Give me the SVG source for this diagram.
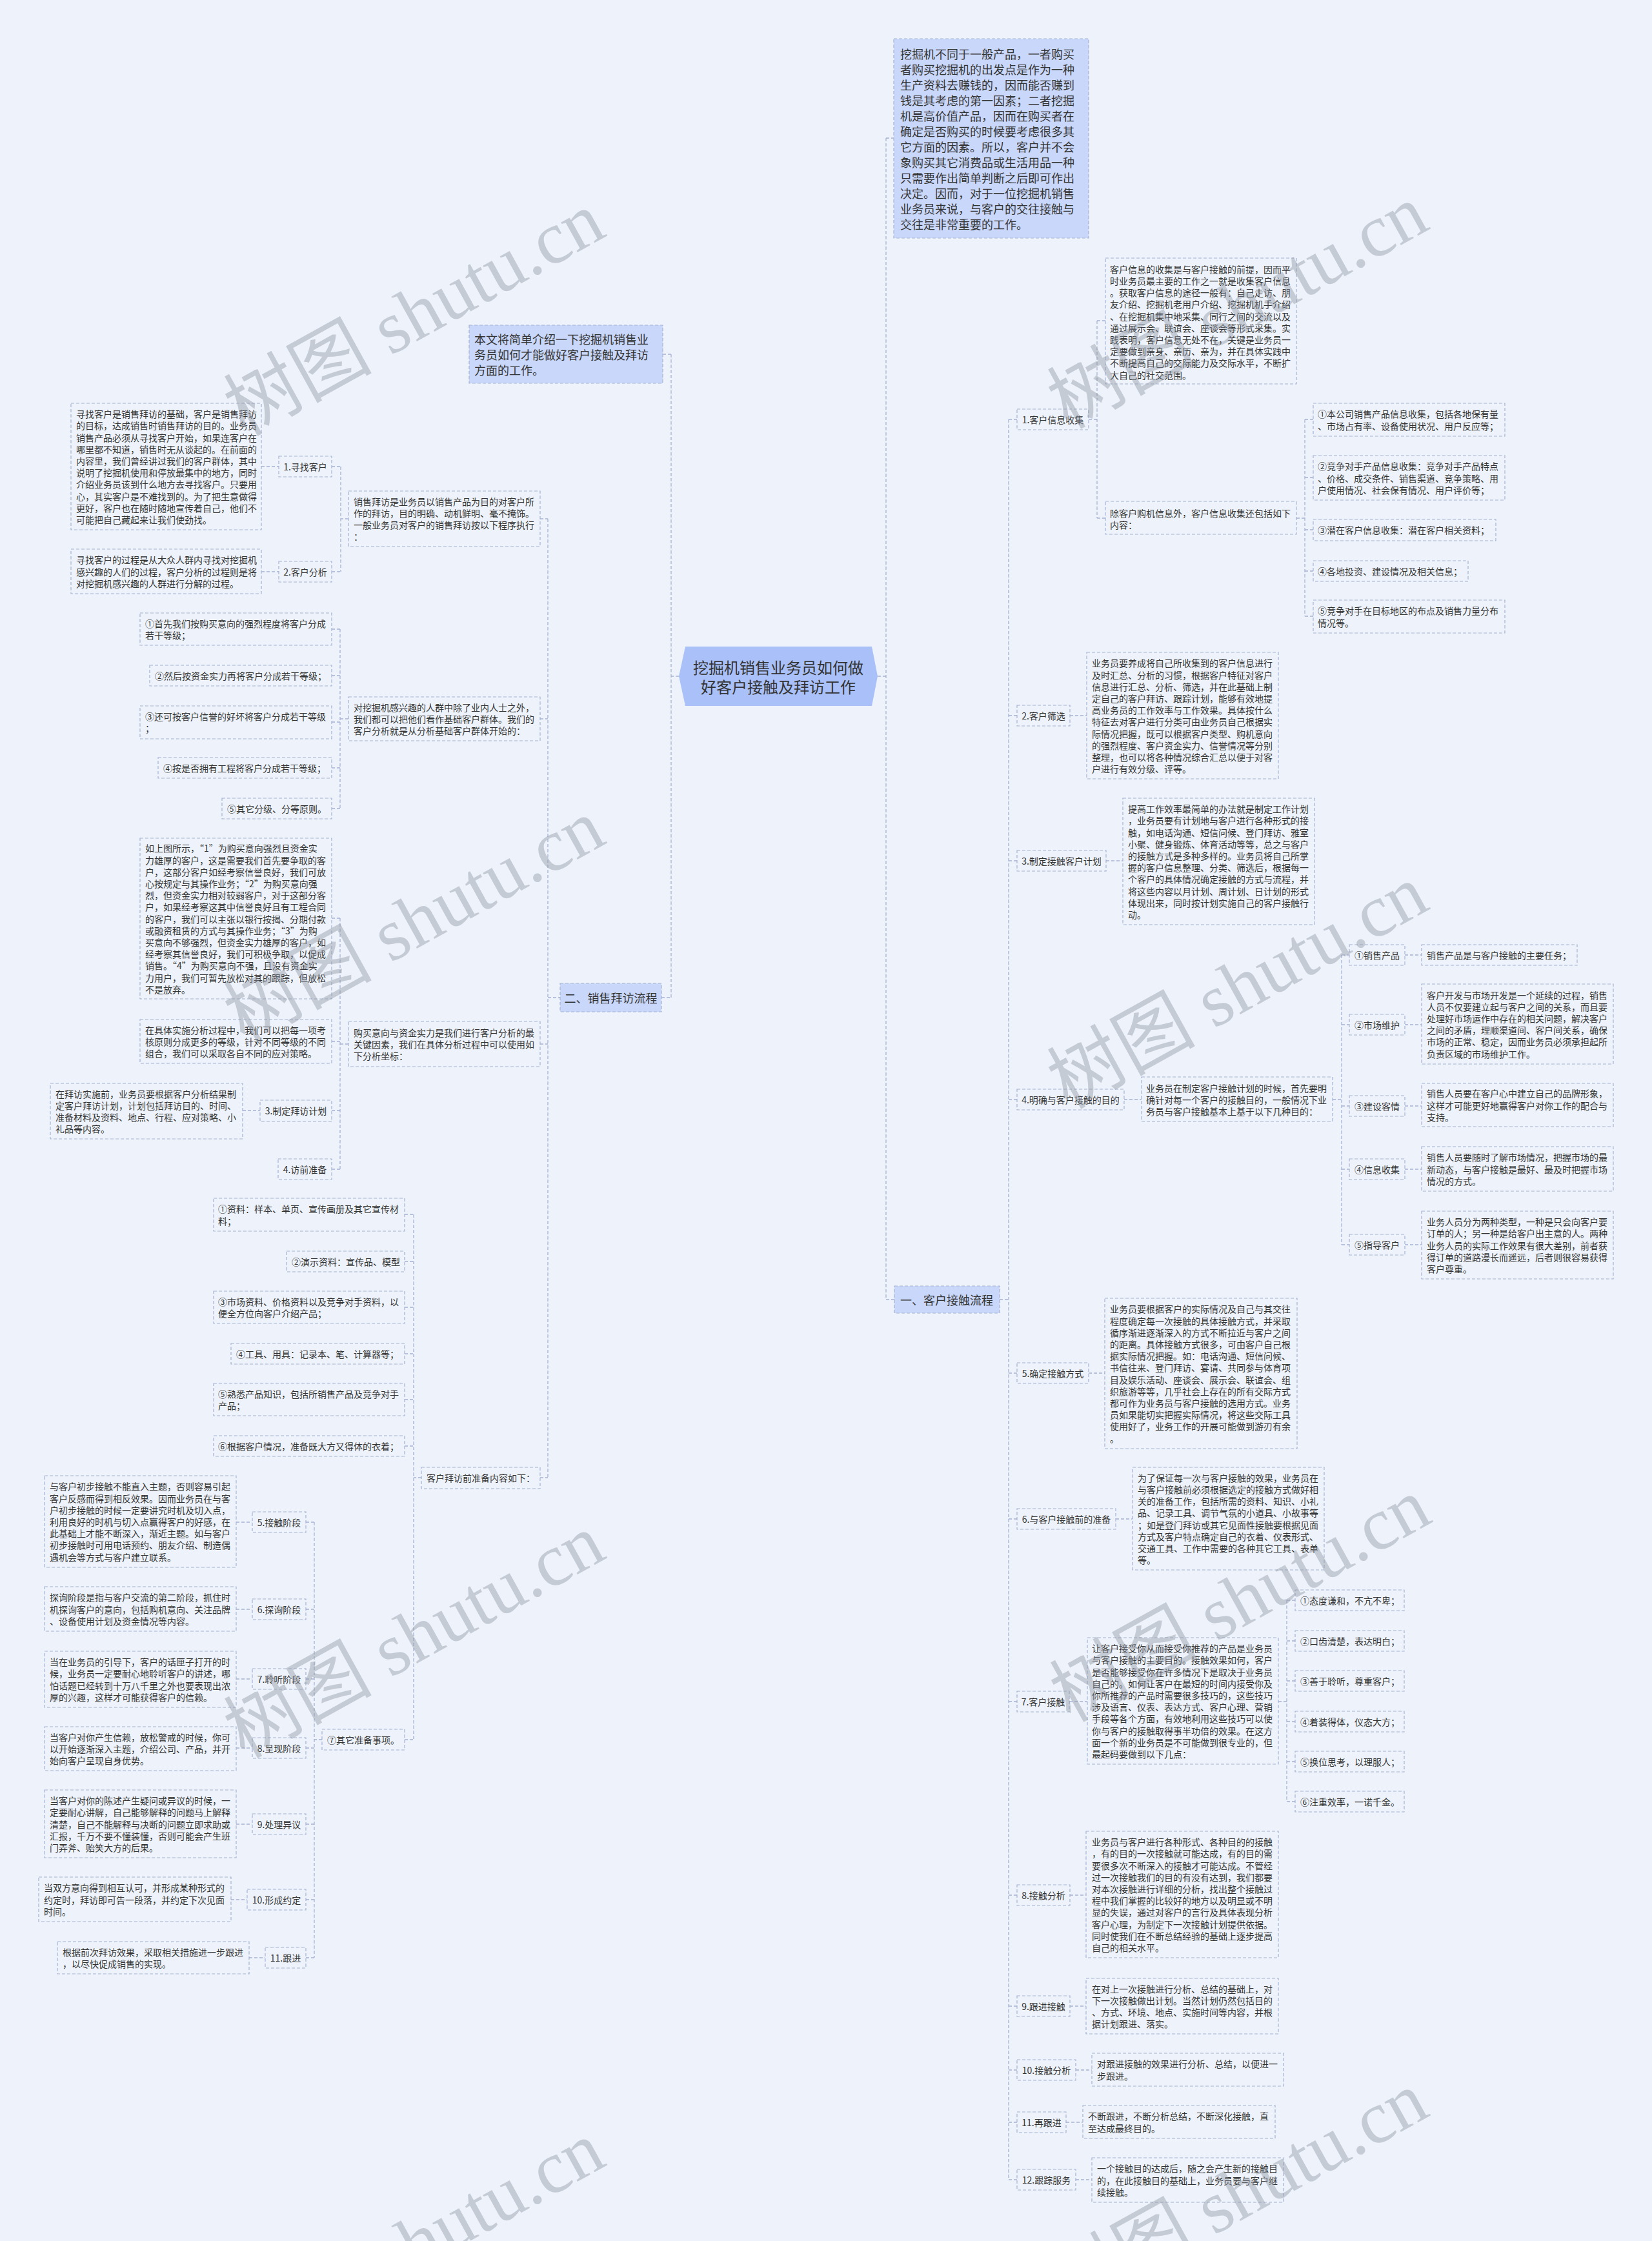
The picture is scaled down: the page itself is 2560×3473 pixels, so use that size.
<svg xmlns="http://www.w3.org/2000/svg" width="2560" height="3473" viewBox="0 0 2560 3473">
<style>
.b{fill:#eef3fb;stroke:#a6b2d2;stroke-width:1.2;stroke-dasharray:5 3}
.h{fill:#c9d8fa;stroke:#a6b2d2;stroke-width:1.2;stroke-dasharray:5 3}
.c{fill:none;stroke:#a6b2d2;stroke-width:1.3;stroke-dasharray:5 3}
text{font-family:"Noto Sans CJK SC","Liberation Sans",sans-serif;fill:#333;dominant-baseline:central}
.s{font-size:14px}
.m{font-size:18px}
.n{text-anchor:middle}
.w{font-family:"Liberation Serif","Noto Sans CJK SC",serif;font-size:115px;fill:#8f96a3;opacity:.42;text-anchor:middle}
</style>
<rect x="0" y="0" width="2560" height="3473" fill="#eef3fb"/>
<g id="connectors">
<path class="c" d="M1373 214V2014M1373 214H1385M1360 1048H1373M1373 2014H1386M1549 2014H1563M1563 650V3378M1563 650H1576M1563 1109H1576M1563 1334H1576M1563 1704H1576M1563 2128H1576M1563 2354H1576M1563 2637H1576M1563 2937H1576M1563 3109H1576M1563 3208H1576M1563 3289H1576M1563 3378H1576"/>
<path class="c" d="M1687 650H1700M1700 497V803M1700 497H1713M1700 803H1713M2009 803H2022M2022 650V955M2022 650H2035M2022 740H2035M2022 821H2035M2022 885H2035M2022 955H2035"/>
<path class="c" d="M1658 1109H1684M1714 1334H1740M1742 1704H1769M2065 1704H2079M2079 1480V1929M2079 1480H2091M2079 1588H2091M2079 1714H2091M2079 1812H2091M2079 1929H2091M2177 1480H2203M2177 1588H2203M2177 1714H2203M2177 1812H2203M2177 1929H2203"/>
<path class="c" d="M1687 2128H1712M1729 2354H1755M1657 2637H1685M1981 2637H1994M1994 2480V2792M1994 2480H2007M1994 2543H2007M1994 2605H2007M1994 2668H2007M1994 2730H2007M1994 2792H2007M1658 2937H1683M1658 3109H1683M1667 3208H1692M1652 3289H1678M1667 3378H1692"/>
<path class="c" d="M1052 1048H1040M1040 549V1546M1027 549H1040M1025 1546H1040M849 1546H868M849 804V2290M837 804H849M837 1114H849M837 1618H849M837 2290H849"/>
<path class="c" d="M540 804H528M528 723V886M514 723H528M514 886H528M405 723H432M405 886H432M540 1114H527M527 975V1253M514 975H527M514 1047H527M514 1119H527M514 1190H527M514 1253H527M540 1618H527M527 1423V1812M514 1423H527M514 1614H527M514 1721H527M514 1812H527M376 1721H403"/>
<path class="c" d="M653 2290H641M641 1882V2696M627 1882H641M627 1955H641M627 2026H641M627 2098H641M627 2169H641M627 2241H641M627 2696H641M499 2696H487M487 2359V3034M474 2359H487M474 2494H487M474 2602H487M474 2709H487M474 2827H487M474 2944H487M474 3034H487M366 2359H391M366 2494H391M366 2602H391M366 2709H391M366 2827H391M358 2944H383M386 3034H411"/>
</g>
<g id="root">
<polygon points="1052,1048 1062,1002 1351,1002 1360,1048 1351,1094 1062,1094" fill="#a9c1f8"/>
<text x="1206" y="1033" font-size="24" class="n">挖掘机销售业务员如何做</text>
<text x="1206" y="1063" font-size="24" class="n">好客户接触及拜访工作</text>
</g>
<g id="intro-right">
<rect class="h" x="1385" y="60" width="302" height="309"/>
<text class="m" x="1395"><tspan x="1395" y="83">挖掘机不同于一般产品，一者购买</tspan><tspan x="1395" y="107">者购买挖掘机的出发点是作为一种</tspan><tspan x="1395" y="131">生产资料去赚钱的，因而能否赚到</tspan><tspan x="1395" y="155">钱是其考虑的第一因素；二者挖掘</tspan><tspan x="1395" y="179">机是高价值产品，因而在购买者在</tspan><tspan x="1395" y="203">确定是否购买的时候要考虑很多其</tspan><tspan x="1395" y="227">它方面的因素。所以，客户并不会</tspan><tspan x="1395" y="251">象购买其它消费品或生活用品一种</tspan><tspan x="1395" y="275">只需要作出简单判断之后即可作出</tspan><tspan x="1395" y="299">决定。因而，对于一位挖掘机销售</tspan><tspan x="1395" y="323">业务员来说，与客户的交往接触与</tspan><tspan x="1395" y="347">交往是非常重要的工作。</tspan></text>
</g>
<g id="b1">
<rect class="h" x="1386" y="1993" width="163" height="42"/>
<text class="m n" x="1467" y="2014">一、客户接触流程</text>
</g>
<g id="r1"><rect class="b" x="1576" y="634" width="111" height="32"/><text class="s n" x="1631.5" y="650">1.客户信息收集</text></g>
<g id="r1a"><rect class="b" x="1713" y="400" width="296" height="195"/><text class="s"><tspan x="1720" y="416.8">客户信息的收集是与客户接触的前提，因而平</tspan><tspan x="1720" y="435">时业务员最主要的工作之一就是收集客户信息</tspan><tspan x="1720" y="453.2">。获取客户信息的途径一般有：自己走访、朋</tspan><tspan x="1720" y="471.4">友介绍、挖掘机老用户介绍、挖掘机机手介绍</tspan><tspan x="1720" y="489.6">、在挖掘机集中地采集、同行之间的交流以及</tspan><tspan x="1720" y="507.8">通过展示会、联谊会、座谈会等形式采集。实</tspan><tspan x="1720" y="526">践表明，客户信息无处不在，关键是业务员一</tspan><tspan x="1720" y="544.2">定要做到亲身、亲历、亲为，并在具体实践中</tspan><tspan x="1720" y="562.4">不断提高自己的交际能力及交际水平，不断扩</tspan><tspan x="1720" y="580.6">大自己的社交范围。</tspan></text></g>
<g id="r1b"><rect class="b" x="1713" y="777" width="296" height="51"/><text class="s"><tspan x="1720" y="794.5">除客户购机信息外，客户信息收集还包括如下</tspan><tspan x="1720" y="812.7">内容：</tspan></text></g>
<g id="r1b1"><rect class="b" x="2035" y="625" width="297" height="51"/><text class="s"><tspan x="2042" y="641.4">①本公司销售产品信息收集，包括各地保有量</tspan><tspan x="2042" y="659.6">、市场占有率、设备使用状况、用户反应等；</tspan></text></g>
<g id="r1b2"><rect class="b" x="2035" y="706" width="297" height="69"/><text class="s"><tspan x="2042" y="722.3">②竞争对手产品信息收集：竞争对手产品特点</tspan><tspan x="2042" y="740.5">、价格、成交条件、销售渠道、竞争策略、用</tspan><tspan x="2042" y="758.7">户使用情况、社会保有情况、用户评价等；</tspan></text></g>
<g id="r1b3"><rect class="b" x="2035" y="805" width="283" height="33"/><text class="s" x="2042" y="821">③潜在客户信息收集：潜在客户相关资料；</text></g>
<g id="r1b4"><rect class="b" x="2035" y="869" width="240" height="32"/><text class="s" x="2042" y="885">④各地投资、建设情况及相关信息；</text></g>
<g id="r1b5"><rect class="b" x="2035" y="930" width="297" height="51"/><text class="s"><tspan x="2042" y="946.4">⑤竞争对手在目标地区的布点及销售力量分布</tspan><tspan x="2042" y="964.6">情况等。</tspan></text></g>
<g id="r2"><rect class="b" x="1576" y="1093" width="82" height="32"/><text class="s n" x="1617" y="1109">2.客户筛选</text></g>
<g id="r2a"><rect class="b" x="1684" y="1011" width="297" height="196"/><text class="s"><tspan x="1692" y="1027.3">业务员要养成将自己所收集到的客户信息进行</tspan><tspan x="1692" y="1045.5">及时汇总、分析的习惯，根据客户特征对客户</tspan><tspan x="1692" y="1063.7">信息进行汇总、分析、筛选，并在此基础上制</tspan><tspan x="1692" y="1081.9">定自己的客户拜访、跟踪计划，能够有效地提</tspan><tspan x="1692" y="1100.1">高业务员的工作效率与工作效果。具体按什么</tspan><tspan x="1692" y="1118.3">特征去对客户进行分类可由业务员自己根据实</tspan><tspan x="1692" y="1136.5">际情况把握，既可以根据客户类型、购机意向</tspan><tspan x="1692" y="1154.7">的强烈程度、客户资金实力、信誉情况等分别</tspan><tspan x="1692" y="1172.9">整理，也可以将各种情况综合汇总以便于对客</tspan><tspan x="1692" y="1191.1">户进行有效分级、评等。</tspan></text></g>
<g id="r3"><rect class="b" x="1576" y="1318" width="138" height="32"/><text class="s n" x="1645" y="1334">3.制定接触客户计划</text></g>
<g id="r3a"><rect class="b" x="1740" y="1237" width="297" height="196"/><text class="s"><tspan x="1748" y="1253.1">提高工作效率最简单的办法就是制定工作计划</tspan><tspan x="1748" y="1271.3">，业务员要有计划地与客户进行各种形式的接</tspan><tspan x="1748" y="1289.5">触，如电话沟通、短信问候、登门拜访、雅室</tspan><tspan x="1748" y="1307.7">小聚、健身锻炼、体育活动等等，总之与客户</tspan><tspan x="1748" y="1325.9">的接触方式是多种多样的。业务员将自己所掌</tspan><tspan x="1748" y="1344.1">握的客户信息整理、分类、筛选后，根据每一</tspan><tspan x="1748" y="1362.3">个客户的具体情况确定接触的方式与流程，并</tspan><tspan x="1748" y="1380.5">将这些内容以月计划、周计划、日计划的形式</tspan><tspan x="1748" y="1398.7">体现出来，同时按计划实施自己的客户接触行</tspan><tspan x="1748" y="1416.9">动。</tspan></text></g>
<g id="r4"><rect class="b" x="1576" y="1688" width="166" height="32"/><text class="s n" x="1659" y="1704">4.明确与客户接触的目的</text></g>
<g id="r4a"><rect class="b" x="1769" y="1669" width="296" height="69"/><text class="s"><tspan x="1776" y="1685.8">业务员在制定客户接触计划的时候，首先要明</tspan><tspan x="1776" y="1704">确针对每一个客户的接触目的，一般情况下业</tspan><tspan x="1776" y="1722.2">务员与客户接触基本上基于以下几种目的：</tspan></text></g>
<g id="r4a1"><rect class="b" x="2091" y="1464" width="86" height="32"/><text class="s n" x="2134" y="1480">①销售产品</text></g>
<g id="r4a2"><rect class="b" x="2091" y="1572" width="86" height="32"/><text class="s n" x="2134" y="1588">②市场维护</text></g>
<g id="r4a3"><rect class="b" x="2091" y="1698" width="86" height="32"/><text class="s n" x="2134" y="1714">③建设客情</text></g>
<g id="r4a4"><rect class="b" x="2091" y="1796" width="86" height="32"/><text class="s n" x="2134" y="1812">④信息收集</text></g>
<g id="r4a5"><rect class="b" x="2091" y="1913" width="86" height="32"/><text class="s n" x="2134" y="1929">⑤指导客户</text></g>
<g id="r4b1"><rect class="b" x="2203" y="1464" width="241" height="32"/><text class="s" x="2211" y="1480">销售产品是与客户接触的主要任务；</text></g>
<g id="r4b2"><rect class="b" x="2203" y="1525" width="297" height="124"/><text class="s"><tspan x="2211" y="1541.5">客户开发与市场开发是一个延续的过程，销售</tspan><tspan x="2211" y="1559.7">人员不仅要建立起与客户之间的关系，而且要</tspan><tspan x="2211" y="1577.9">处理好市场运作中存在的相关问题，解决客户</tspan><tspan x="2211" y="1596.1">之间的矛盾，理顺渠道间、客户间关系，确保</tspan><tspan x="2211" y="1614.3">市场的正常、稳定，因而业务员必须承担起所</tspan><tspan x="2211" y="1632.5">负责区域的市场维护工作。</tspan></text></g>
<g id="r4b3"><rect class="b" x="2203" y="1679" width="297" height="67"/><text class="s"><tspan x="2211" y="1694.3">销售人员要在客户心中建立自己的品牌形象，</tspan><tspan x="2211" y="1712.5">这样才可能更好地赢得客户对你工作的配合与</tspan><tspan x="2211" y="1730.7">支持。</tspan></text></g>
<g id="r4b4"><rect class="b" x="2203" y="1777" width="297" height="69"/><text class="s"><tspan x="2211" y="1793.3">销售人员要随时了解市场情况，把握市场的最</tspan><tspan x="2211" y="1811.5">新动态，与客户接触是最好、最及时把握市场</tspan><tspan x="2211" y="1829.7">情况的方式。</tspan></text></g>
<g id="r4b5"><rect class="b" x="2203" y="1877" width="297" height="105"/><text class="s"><tspan x="2211" y="1893.1">业务人员分为两种类型，一种是只会向客户要</tspan><tspan x="2211" y="1911.3">订单的人；另一种是给客户出主意的人。两种</tspan><tspan x="2211" y="1929.5">业务人员的实际工作效果有很大差别，前者获</tspan><tspan x="2211" y="1947.7">得订单的道路漫长而遥远，后者则很容易获得</tspan><tspan x="2211" y="1965.9">客户尊重。</tspan></text></g>
<g id="r5"><rect class="b" x="1576" y="2112" width="111" height="32"/><text class="s n" x="1631.5" y="2128">5.确定接触方式</text></g>
<g id="r5a"><rect class="b" x="1712" y="2012" width="298" height="233"/><text class="s"><tspan x="1720" y="2028.4">业务员要根据客户的实际情况及自己与其交往</tspan><tspan x="1720" y="2046.6">程度确定每一次接触的具体接触方式，并采取</tspan><tspan x="1720" y="2064.8">循序渐进逐渐深入的方式不断拉近与客户之间</tspan><tspan x="1720" y="2083">的距离。具体接触方式很多，可由客户自己根</tspan><tspan x="1720" y="2101.2">据实际情况把握。如：电话沟通、短信问候、</tspan><tspan x="1720" y="2119.4">书信往来、登门拜访、宴请、共同参与体育项</tspan><tspan x="1720" y="2137.6">目及娱乐活动、座谈会、展示会、联谊会、组</tspan><tspan x="1720" y="2155.8">织旅游等等，几乎社会上存在的所有交际方式</tspan><tspan x="1720" y="2174">都可作为业务员与客户接触的选用方式。业务</tspan><tspan x="1720" y="2192.2">员如果能切实把握实际情况，将这些交际工具</tspan><tspan x="1720" y="2210.4">使用好了，业务工作的开展可能做到游刃有余</tspan><tspan x="1720" y="2228.6">。</tspan></text></g>
<g id="r6"><rect class="b" x="1576" y="2338" width="153" height="32"/><text class="s n" x="1652.5" y="2354">6.与客户接触前的准备</text></g>
<g id="r6a"><rect class="b" x="1755" y="2274" width="297" height="159"/><text class="s"><tspan x="1763" y="2289.8">为了保证每一次与客户接触的效果，业务员在</tspan><tspan x="1763" y="2308">与客户接触前必须根据选定的接触方式做好相</tspan><tspan x="1763" y="2326.2">关的准备工作，包括所需的资料、知识、小礼</tspan><tspan x="1763" y="2344.4">品、记录工具、调节气氛的小道具、小故事等</tspan><tspan x="1763" y="2362.6">；如是登门拜访或其它见面性接触要根据见面</tspan><tspan x="1763" y="2380.8">方式及客户特点确定自己的衣着、仪表形式、</tspan><tspan x="1763" y="2399">交通工具、工作中需要的各种其它工具、表单</tspan><tspan x="1763" y="2417.2">等。</tspan></text></g>
<g id="r7"><rect class="b" x="1576" y="2621" width="81" height="32"/><text class="s n" x="1616.5" y="2637">7.客户接触</text></g>
<g id="r7a"><rect class="b" x="1685" y="2538" width="296" height="196"/><text class="s"><tspan x="1692" y="2554.1">让客户接受你从而接受你推荐的产品是业务员</tspan><tspan x="1692" y="2572.3">与客户接触的主要目的。接触效果如何，客户</tspan><tspan x="1692" y="2590.5">是否能够接受你在许多情况下是取决于业务员</tspan><tspan x="1692" y="2608.7">自己的。如何让客户在最短的时间内接受你及</tspan><tspan x="1692" y="2626.9">你所推荐的产品时需要很多技巧的，这些技巧</tspan><tspan x="1692" y="2645.1">涉及语言、仪表、表达方式、客户心理、营销</tspan><tspan x="1692" y="2663.3">手段等各个方面，有效地利用这些技巧可以使</tspan><tspan x="1692" y="2681.5">你与客户的接触取得事半功倍的效果。在这方</tspan><tspan x="1692" y="2699.7">面一个新的业务员是不可能做到很专业的，但</tspan><tspan x="1692" y="2717.9">最起码要做到以下几点：</tspan></text></g>
<g id="r7b1"><rect class="b" x="2007" y="2464" width="169" height="32"/><text class="s" x="2015" y="2480">①态度谦和，不亢不卑；</text></g>
<g id="r7b2"><rect class="b" x="2007" y="2527" width="169" height="32"/><text class="s" x="2015" y="2543">②口齿清楚，表达明白；</text></g>
<g id="r7b3"><rect class="b" x="2007" y="2589" width="169" height="32"/><text class="s" x="2015" y="2605">③善于聆听，尊重客户；</text></g>
<g id="r7b4"><rect class="b" x="2007" y="2652" width="169" height="32"/><text class="s" x="2015" y="2668">④着装得体，仪态大方；</text></g>
<g id="r7b5"><rect class="b" x="2007" y="2714" width="169" height="32"/><text class="s" x="2015" y="2730">⑤换位思考，以理服人；</text></g>
<g id="r7b6"><rect class="b" x="2007" y="2776" width="169" height="32"/><text class="s" x="2015" y="2792">⑥注重效率，一诺千金。</text></g>
<g id="r8"><rect class="b" x="1576" y="2921" width="82" height="32"/><text class="s n" x="1617" y="2937">8.接触分析</text></g>
<g id="r8a"><rect class="b" x="1683" y="2838" width="298" height="196"/><text class="s"><tspan x="1692" y="2854.1">业务员与客户进行各种形式、各种目的的接触</tspan><tspan x="1692" y="2872.3">，有的目的一次接触就可能达成，有的目的需</tspan><tspan x="1692" y="2890.5">要很多次不断深入的接触才可能达成。不管经</tspan><tspan x="1692" y="2908.7">过一次接触我们的目的有没有达到，我们都要</tspan><tspan x="1692" y="2926.9">对本次接触进行详细的分析，找出整个接触过</tspan><tspan x="1692" y="2945.1">程中我们掌握的比较好的地方以及明显或不明</tspan><tspan x="1692" y="2963.3">显的失误，通过对客户的言行及具体表现分析</tspan><tspan x="1692" y="2981.5">客户心理，为制定下一次接触计划提供依据。</tspan><tspan x="1692" y="2999.7">同时使我们在不断总结经验的基础上逐步提高</tspan><tspan x="1692" y="3017.9">自己的相关水平。</tspan></text></g>
<g id="r9"><rect class="b" x="1576" y="3093" width="82" height="32"/><text class="s n" x="1617" y="3109">9.跟进接触</text></g>
<g id="r9a"><rect class="b" x="1683" y="3066" width="298" height="86"/><text class="s"><tspan x="1692" y="3081.7">在对上一次接触进行分析、总结的基础上，对</tspan><tspan x="1692" y="3099.9">下一次接触做出计划。当然计划仍然包括目的</tspan><tspan x="1692" y="3118.1">、方式、环境、地点、实施时间等内容，并根</tspan><tspan x="1692" y="3136.3">据计划跟进、落实。</tspan></text></g>
<g id="r10"><rect class="b" x="1576" y="3192" width="91" height="32"/><text class="s n" x="1621.5" y="3208">10.接触分析</text></g>
<g id="r10a"><rect class="b" x="1692" y="3182" width="297" height="51"/><text class="s"><tspan x="1700" y="3198.4">对跟进接触的效果进行分析、总结，以便进一</tspan><tspan x="1700" y="3216.6">步跟进。</tspan></text></g>
<g id="r11"><rect class="b" x="1576" y="3273" width="76" height="32"/><text class="s n" x="1614" y="3289">11.再跟进</text></g>
<g id="r11a"><rect class="b" x="1678" y="3263" width="298" height="51"/><text class="s"><tspan x="1686" y="3279.4">不断跟进，不断分析总结，不断深化接触，直</tspan><tspan x="1686" y="3297.6">至达成最终目的。</tspan></text></g>
<g id="r12"><rect class="b" x="1576" y="3362" width="91" height="32"/><text class="s n" x="1621.5" y="3378">12.跟踪服务</text></g>
<g id="r12a"><rect class="b" x="1692" y="3344" width="297" height="69"/><text class="s"><tspan x="1700" y="3360.3">一个接触目的达成后，随之会产生新的接触目</tspan><tspan x="1700" y="3378.5">的，在此接触目的基础上，业务员要与客户继</tspan><tspan x="1700" y="3396.7">续接触。</tspan></text></g>
<g id="intro-left">
<rect class="h" x="727" y="504" width="300" height="90"/>
<text class="m"><tspan x="735" y="525">本文将简单介绍一下挖掘机销售业</tspan><tspan x="735" y="549">务员如何才能做好客户接触及拜访</tspan><tspan x="735" y="573">方面的工作。</tspan></text>
</g>
<g id="b2">
<rect class="h" x="868" y="1524" width="157" height="44"/>
<text class="m n" x="946.5" y="1546">二、销售拜访流程</text>
</g>
<g id="lA"><rect class="b" x="540" y="761" width="297" height="86"/><text class="s"><tspan x="548" y="776.7">销售拜访是业务员以销售产品为目的对客户所</tspan><tspan x="548" y="794.9">作的拜访，目的明确、动机鲜明、毫不掩饰。</tspan><tspan x="548" y="813.1">一般业务员对客户的销售拜访按以下程序执行</tspan><tspan x="548" y="831.3">：</tspan></text></g>
<g id="lA1"><rect class="b" x="432" y="707" width="82" height="32"/><text class="s n" x="473" y="723">1.寻找客户</text></g>
<g id="lA2"><rect class="b" x="432" y="870" width="82" height="32"/><text class="s n" x="473" y="886">2.客户分析</text></g>
<g id="lA1a"><rect class="b" x="110" y="625" width="295" height="196"/><text class="s"><tspan x="118" y="641.1">寻找客户是销售拜访的基础，客户是销售拜访</tspan><tspan x="118" y="659.3">的目标，达成销售时销售拜访的目的。业务员</tspan><tspan x="118" y="677.5">销售产品必须从寻找客户开始，如果连客户在</tspan><tspan x="118" y="695.7">哪里都不知道，销售时无从谈起的。在前面的</tspan><tspan x="118" y="713.9">内容里，我们曾经讲过我们的客户群体，其中</tspan><tspan x="118" y="732.1">说明了挖掘机使用和停放最集中的地方，同时</tspan><tspan x="118" y="750.3">介绍业务员该到什么地方去寻找客户。只要用</tspan><tspan x="118" y="768.5">心，其实客户是不难找到的。为了把生意做得</tspan><tspan x="118" y="786.7">更好，客户也在随时随地宣传着自己，他们不</tspan><tspan x="118" y="804.9">可能把自己藏起来让我们使劲找。</tspan></text></g>
<g id="lA2a"><rect class="b" x="110" y="851" width="295" height="69"/><text class="s"><tspan x="118" y="867.3">寻找客户的过程是从大众人群内寻找对挖掘机</tspan><tspan x="118" y="885.5">感兴趣的人们的过程，客户分析的过程则是将</tspan><tspan x="118" y="903.7">对挖掘机感兴趣的人群进行分解的过程。</tspan></text></g>
<g id="lB"><rect class="b" x="540" y="1080" width="297" height="68"/><text class="s"><tspan x="548" y="1095.8">对挖掘机感兴趣的人群中除了业内人士之外，</tspan><tspan x="548" y="1114">我们都可以把他们看作基础客户群体。我们的</tspan><tspan x="548" y="1132.2">客户分析就是从分析基础客户群体开始的：</tspan></text></g>
<g id="lB1"><rect class="b" x="217" y="950" width="297" height="50"/><text class="s"><tspan x="225" y="965.9">①首先我们按购买意向的强烈程度将客户分成</tspan><tspan x="225" y="984.1">若干等级；</tspan></text></g>
<g id="lB2"><rect class="b" x="232" y="1031" width="282" height="32"/><text class="s" x="240" y="1047">②然后按资金实力再将客户分成若干等级；</text></g>
<g id="lB3"><rect class="b" x="217" y="1094" width="297" height="51"/><text class="s"><tspan x="225" y="1109.9">③还可按客户信誉的好坏将客户分成若干等级</tspan><tspan x="225" y="1128.1">；</tspan></text></g>
<g id="lB4"><rect class="b" x="245" y="1174" width="269" height="32"/><text class="s" x="253" y="1190">④按是否拥有工程将客户分成若干等级；</text></g>
<g id="lB5"><rect class="b" x="344" y="1237" width="170" height="32"/><text class="s" x="352" y="1253">⑤其它分级、分等原则。</text></g>
<g id="lC"><rect class="b" x="540" y="1583" width="297" height="70"/><text class="s"><tspan x="548" y="1599.8">购买意向与资金实力是我们进行客户分析的最</tspan><tspan x="548" y="1618">关键因素，我们在具体分析过程中可以使用如</tspan><tspan x="548" y="1636.2">下分析坐标：</tspan></text></g>
<g id="lC1"><rect class="b" x="217" y="1299" width="297" height="249"/><text class="s"><tspan x="225" y="1314.3">如上图所示，“1”为购买意向强烈且资金实</tspan><tspan x="225" y="1332.5">力雄厚的客户，这是需要我们首先要争取的客</tspan><tspan x="225" y="1350.7">户，这部分客户如经考察信誉良好，我们可放</tspan><tspan x="225" y="1368.9">心按规定与其操作业务；“2”为购买意向强</tspan><tspan x="225" y="1387.1">烈，但资金实力相对较弱客户，对于这部分客</tspan><tspan x="225" y="1405.3">户，如果经考察这其中信誉良好且有工程合同</tspan><tspan x="225" y="1423.5">的客户，我们可以主张以银行按揭、分期付款</tspan><tspan x="225" y="1441.7">或融资租赁的方式与其操作业务；“3”为购</tspan><tspan x="225" y="1459.9">买意向不够强烈，但资金实力雄厚的客户，如</tspan><tspan x="225" y="1478.1">经考察其信誉良好，我们可积极争取，以促成</tspan><tspan x="225" y="1496.3">销售。“4”为购买意向不强，且没有资金实</tspan><tspan x="225" y="1514.5">力用户，我们可暂先放松对其的跟踪，但放松</tspan><tspan x="225" y="1532.7">不是放弃。</tspan></text></g>
<g id="lC2"><rect class="b" x="217" y="1580" width="297" height="68"/><text class="s"><tspan x="225" y="1595.8">在具体实施分析过程中，我们可以把每一项考</tspan><tspan x="225" y="1614">核原则分成更多的等级，针对不同等级的不同</tspan><tspan x="225" y="1632.2">组合，我们可以采取各自不同的应对策略。</tspan></text></g>
<g id="lC3"><rect class="b" x="403" y="1705" width="111" height="33"/><text class="s n" x="458.5" y="1721">3.制定拜访计划</text></g>
<g id="lC3a"><rect class="b" x="78" y="1679" width="298" height="86"/><text class="s"><tspan x="86" y="1694.7">在拜访实施前，业务员要根据客户分析结果制</tspan><tspan x="86" y="1712.9">定客户拜访计划，计划包括拜访目的、时间、</tspan><tspan x="86" y="1731.1">准备材料及资料、地点、行程、应对策略、小</tspan><tspan x="86" y="1749.3">礼品等内容。</tspan></text></g>
<g id="lC4"><rect class="b" x="431" y="1796" width="83" height="32"/><text class="s n" x="472.5" y="1812">4.访前准备</text></g>
<g id="lD"><rect class="b" x="653" y="2274" width="184" height="33"/><text class="s" x="661" y="2290">客户拜访前准备内容如下：</text></g>
<g id="lD1"><rect class="b" x="331" y="1857" width="296" height="51"/><text class="s"><tspan x="338" y="1873.4">①资料：样本、单页、宣传画册及其它宣传材</tspan><tspan x="338" y="1891.6">料；</tspan></text></g>
<g id="lD2"><rect class="b" x="444" y="1939" width="183" height="32"/><text class="s" x="452" y="1955">②演示资料：宣传品、模型</text></g>
<g id="lD3"><rect class="b" x="331" y="2001" width="296" height="50"/><text class="s"><tspan x="338" y="2016.9">③市场资料、价格资料以及竞争对手资料，以</tspan><tspan x="338" y="2035.1">便全方位向客户介绍产品；</tspan></text></g>
<g id="lD4"><rect class="b" x="358" y="2082" width="269" height="32"/><text class="s" x="366" y="2098">④工具、用具：记录本、笔、计算器等；</text></g>
<g id="lD5"><rect class="b" x="331" y="2144" width="296" height="50"/><text class="s"><tspan x="338" y="2159.9">⑤熟悉产品知识，包括所销售产品及竞争对手</tspan><tspan x="338" y="2178.1">产品；</tspan></text></g>
<g id="lD6"><rect class="b" x="331" y="2225" width="296" height="32"/><text class="s" x="338" y="2241">⑥根据客户情况，准备既大方又得体的衣着；</text></g>
<g id="lD7"><rect class="b" x="499" y="2680" width="128" height="32"/><text class="s n" x="563" y="2696">⑦其它准备事项。</text></g>
<g id="lE5"><rect class="b" x="391" y="2343" width="83" height="32"/><text class="s n" x="432.5" y="2359">5.接触阶段</text></g>
<g id="lE6"><rect class="b" x="391" y="2478" width="83" height="32"/><text class="s n" x="432.5" y="2494">6.探询阶段</text></g>
<g id="lE7"><rect class="b" x="391" y="2586" width="83" height="32"/><text class="s n" x="432.5" y="2602">7.聆听阶段</text></g>
<g id="lE8"><rect class="b" x="391" y="2693" width="83" height="32"/><text class="s n" x="432.5" y="2709">8.呈现阶段</text></g>
<g id="lE9"><rect class="b" x="391" y="2811" width="83" height="32"/><text class="s n" x="432.5" y="2827">9.处理异议</text></g>
<g id="lE10"><rect class="b" x="383" y="2928" width="91" height="32"/><text class="s n" x="428.5" y="2944">10.形成约定</text></g>
<g id="lE11"><rect class="b" x="411" y="3018" width="63" height="32"/><text class="s n" x="442.5" y="3034">11.跟进</text></g>
<g id="lE5a"><rect class="b" x="69" y="2287" width="297" height="142"/><text class="s"><tspan x="77" y="2303.4">与客户初步接触不能直入主题，否则容易引起</tspan><tspan x="77" y="2321.6">客户反感而得到相反效果。因而业务员在与客</tspan><tspan x="77" y="2339.8">户初步接触的时候一定要讲究时机及切入点，</tspan><tspan x="77" y="2358">利用良好的时机与切入点赢得客户的好感，在</tspan><tspan x="77" y="2376.2">此基础上才能不断深入，渐近主题。如与客户</tspan><tspan x="77" y="2394.4">初步接触时可用电话预约、朋友介绍、制造偶</tspan><tspan x="77" y="2412.6">遇机会等方式与客户建立联系。</tspan></text></g>
<g id="lE6a"><rect class="b" x="69" y="2459" width="297" height="69"/><text class="s"><tspan x="77" y="2475.3">探询阶段是指与客户交流的第二阶段，抓住时</tspan><tspan x="77" y="2493.5">机探询客户的意向，包括购机意向、关注品牌</tspan><tspan x="77" y="2511.7">、设备使用计划及资金情况等内容。</tspan></text></g>
<g id="lE7a"><rect class="b" x="69" y="2559" width="297" height="87"/><text class="s"><tspan x="77" y="2575.2">当在业务员的引导下，客户的话匣子打开的时</tspan><tspan x="77" y="2593.4">候，业务员一定要耐心地聆听客户的讲述，哪</tspan><tspan x="77" y="2611.6">怕话题已经转到十万八千里之外也要表现出浓</tspan><tspan x="77" y="2629.8">厚的兴趣，这样才可能获得客户的信赖。</tspan></text></g>
<g id="lE8a"><rect class="b" x="69" y="2676" width="297" height="68"/><text class="s"><tspan x="77" y="2691.8">当客户对你产生信赖，放松警戒的时候，你可</tspan><tspan x="77" y="2710">以开始逐渐深入主题，介绍公司、产品，并开</tspan><tspan x="77" y="2728.2">始向客户呈现自身优势。</tspan></text></g>
<g id="lE9a"><rect class="b" x="69" y="2774" width="297" height="105"/><text class="s"><tspan x="77" y="2790.1">当客户对你的陈述产生疑问或异议的时候，一</tspan><tspan x="77" y="2808.3">定要耐心讲解，自己能够解释的问题马上解释</tspan><tspan x="77" y="2826.5">清楚，自己不能解释与决断的问题立即求助或</tspan><tspan x="77" y="2844.7">汇报，千万不要不懂装懂，否则可能会产生班</tspan><tspan x="77" y="2862.9">门弄斧、贻笑大方的后果。</tspan></text></g>
<g id="lE10a"><rect class="b" x="60" y="2909" width="298" height="69"/><text class="s"><tspan x="68" y="2925.3">当双方意向得到相互认可，并形成某种形式的</tspan><tspan x="68" y="2943.5">约定时，拜访即可告一段落，并约定下次见面</tspan><tspan x="68" y="2961.7">时间。</tspan></text></g>
<g id="lE11a"><rect class="b" x="89" y="3009" width="297" height="50"/><text class="s"><tspan x="97" y="3024.9">根据前次拜访效果，采取相关措施进一步跟进</tspan><tspan x="97" y="3043.1">，以尽快促成销售的实现。</tspan></text></g>
<g id="watermarks">
<text class="w" transform="translate(642 487) rotate(-29)">树图 shutu.cn</text>
<text class="w" transform="translate(1918 476) rotate(-29)">树图 shutu.cn</text>
<text class="w" transform="translate(642 1428) rotate(-29)">树图 shutu.cn</text>
<text class="w" transform="translate(1918 1530) rotate(-29)">树图 shutu.cn</text>
<text class="w" transform="translate(642 2536) rotate(-29)">树图 shutu.cn</text>
<text class="w" transform="translate(1922 2480) rotate(-29)">树图 shutu.cn</text>
<text class="w" transform="translate(642 3477) rotate(-29)">树图 shutu.cn</text>
<text class="w" transform="translate(1918 3400) rotate(-29)">树图 shutu.cn</text>
</g>
</svg>
